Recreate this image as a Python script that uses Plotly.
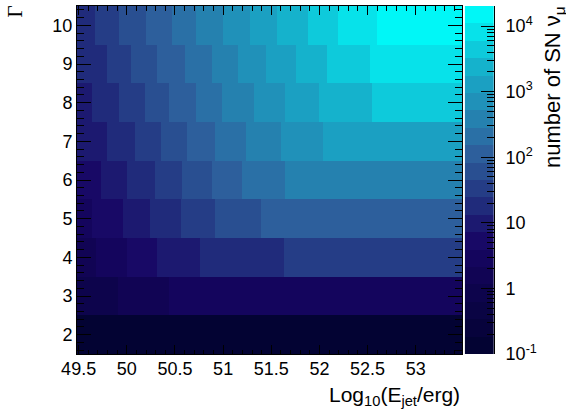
import numpy as np
import plotly.graph_objects as go

# ---------------- data ----------------
gamma = [2, 3, 4, 5, 6, 7, 8, 9, 10]

# interior x boundaries (log10 E_jet/erg) of the constant-colour blocks per Gamma row
edges_g2 = []
counts_g2 = [0.14]
edges_g3 = [49.91, 50.44]
counts_g3 = [0.85, 1.6, 2.9]
edges_g4 = [49.68, 50.00, 50.31, 50.76, 51.63]
counts_g4 = [1.6, 2.9, 5.3, 9.7, 18, 33]
edges_g5 = [49.64, 49.96, 50.24, 50.56, 50.92, 51.39]
counts_g5 = [2.9, 5.3, 9.7, 18, 33, 61, 110]
edges_g6 = [49.73, 50.00, 50.29, 50.57, 50.88, 51.20, 51.64]
counts_g6 = [5.3, 9.7, 18, 33, 61, 110, 205, 380]
edges_g7 = [49.79, 50.08, 50.36, 50.63, 50.92, 51.24, 51.60, 52.04]
counts_g7 = [9.7, 18, 33, 61, 110, 205, 380, 700, 1300]
edges_g8 = [49.64, 49.92, 50.19, 50.44, 50.72, 50.99, 51.32, 51.64, 52.00, 52.55]
counts_g8 = [9.7, 18, 33, 61, 110, 205, 380, 700, 1300, 2350, 4350]
edges_g9 = [49.79, 50.04, 50.31, 50.60, 50.88, 51.15, 51.44, 51.76, 52.08, 52.52]
counts_g9 = [18, 33, 61, 110, 205, 380, 700, 1300, 2350, 4350, 8000]
edges_g10 = [49.67, 49.92, 50.20, 50.47, 50.72, 51.00, 51.28, 51.56, 51.88, 52.19, 52.60]
counts_g10 = [18, 33, 61, 110, 205, 380, 700, 1300, 2350, 4350, 8000, 20200]

row_edges = [edges_g2, edges_g3, edges_g4, edges_g5, edges_g6, edges_g7, edges_g8, edges_g9, edges_g10]
row_counts = [counts_g2, counts_g3, counts_g4, counts_g5, counts_g6, counts_g7, counts_g8, counts_g9, counts_g10]

x_tickvals = [49.5, 50, 50.5, 51, 51.5, 52, 52.5, 53]
x_ticktext = ["49.5", "50", "50.5", "51", "51.5", "52", "52.5", "53"]
y_tickvals = [2, 3, 4, 5, 6, 7, 8, 9, 10]
z_tickvals = [-1, 0, 1, 2, 3, 4]
z_ticktext = ["10<sup>-1</sup>", "1", "10", "10<sup>2</sup>", "10<sup>3</sup>", "10<sup>4</sup>"]

X_MIN, X_MAX = 49.483, 53.483
Y_MIN, Y_MAX = 1.5, 10.5
Z_MIN_LOG, Z_MAX_LOG = -1.0, np.log10(20200)
N_LEVELS = 20

# ---------------- palette (ROOT "deep sea", 20 contour levels) ----------------
stops = [0.00, 0.34, 0.61, 0.84, 1.00]
red = [0.00, 0.09, 0.18, 0.09, 0.00]
green = [0.01, 0.02, 0.39, 0.68, 0.97]
blue = [0.17, 0.39, 0.62, 0.79, 0.97]
NCOL = 255


def band_color(k):
    idx = min(int((k + 0.99) * NCOL / N_LEVELS), NCOL - 1)
    t = idx / (NCOL - 1)
    r = np.interp(t, stops, red)
    g = np.interp(t, stops, green)
    b = np.interp(t, stops, blue)
    return "rgb(%d,%d,%d)" % (round(r * 255), round(g * 255), round(b * 255))


colorscale = []
for k in range(N_LEVELS):
    c = band_color(k)
    colorscale.append([k / N_LEVELS, c])
    colorscale.append([(k + 1) / N_LEVELS, c])

# ---------------- build one rectangular grid from the per-row blocks ----------------
all_edges = sorted(set([X_MIN, X_MAX] + [e for ed in row_edges for e in ed]))
x_centers = 0.5 * (np.array(all_edges[:-1]) + np.array(all_edges[1:]))
z_grid = []
for ed, cnt in zip(row_edges, row_counts):
    seg = np.searchsorted(np.array(ed), x_centers)
    z_grid.append(list(np.log10(np.array(cnt, dtype=float))[seg]))
y_edges = [g - 0.5 for g in gamma] + [gamma[-1] + 0.5]

FONT = "Liberation Sans, Arial, Helvetica, sans-serif"
FS = 18
FS_TITLE = 21

fig = go.Figure()
fig.add_trace(go.Heatmap(
    x=all_edges, y=y_edges, z=z_grid,
    coloraxis="coloraxis", zsmooth=False, hoverinfo="skip",
    xaxis="x", yaxis="y",
))

# colour bar drawn as its own small heatmap
lev_edges = np.linspace(Z_MIN_LOG, Z_MAX_LOG, N_LEVELS + 1)
lev_centers = 0.5 * (lev_edges[:-1] + lev_edges[1:])
fig.add_trace(go.Heatmap(
    x=[0, 1], y=list(lev_edges), z=[[v] for v in lev_centers],
    coloraxis="coloraxis", zsmooth=False, hoverinfo="skip",
    xaxis="x2", yaxis="y2",
))

minor_z = []
for d in range(-1, 5):
    for m in range(2, 10):
        v = d + np.log10(m)
        if v < Z_MAX_LOG:
            minor_z.append(v)

L, R, T, B = 77, 72, 6, 58
W, H = 566, 412
pw = W - L - R
ph = H - T - B


def px_x(p):
    return (p - L) / pw


def px_y(p):
    return (H - B - p) / ph


axis_common = dict(showgrid=False, zeroline=False, showline=True, linecolor="black",
                   linewidth=1, ticks="inside", tickcolor="black", mirror="allticks",
                   automargin=False,
                   tickfont=dict(family=FONT, size=FS, color="black"))

fig.update_layout(
    width=W, height=H,
    margin=dict(l=L, r=R, t=T, b=B, pad=0, autoexpand=False),
    paper_bgcolor="white", plot_bgcolor="white",
    showlegend=False,
    font=dict(family=FONT, size=FS, color="black"),
    coloraxis=dict(colorscale=colorscale, cmin=Z_MIN_LOG, cmax=Z_MAX_LOG, showscale=False),
    xaxis=dict(domain=[0, px_x(462.3)], range=[X_MIN, X_MAX], anchor="y",
               tickmode="array", tickvals=x_tickvals, ticktext=x_ticktext,
               ticklen=9, tickwidth=1, ticklabelstandoff=-2,
               minor=dict(dtick=0.1, tick0=49.5, ticklen=4.5, ticks="inside", tickcolor="black", showgrid=False),
               **axis_common),
    yaxis=dict(domain=[0, 1], range=[Y_MIN, Y_MAX], anchor="x",
               tickmode="array", tickvals=y_tickvals,
               ticklen=14, tickwidth=1,
               minor=dict(dtick=0.2, tick0=1.6, ticklen=7, ticks="inside", tickcolor="black", showgrid=False),
               **axis_common),
    xaxis2=dict(domain=[px_x(464.7), 1], range=[0, 1], anchor="y2", automargin=False,
                showticklabels=False, ticks="", showline=False, showgrid=False, zeroline=False),
    yaxis2=dict(domain=[0, 1], range=[Z_MIN_LOG, Z_MAX_LOG], anchor="x2", side="right",
                tickmode="array", tickvals=z_tickvals, ticktext=z_ticktext,
                ticks="inside", ticklen=13, tickwidth=1, tickcolor="black",
                minor=dict(tickmode="array", tickvals=minor_z, ticklen=7, ticks="inside",
                           tickcolor="black", showgrid=False),
                showline=True, linecolor="black", linewidth=1, automargin=False,
                showgrid=False, zeroline=False, ticklabelstandoff=7,
                tickfont=dict(family=FONT, size=FS, color="black")),
)

fig.add_annotation(text="Log<sub>10</sub>(E<sub>jet</sub>/erg)", xref="paper", yref="paper",
                   x=px_x(462), y=px_y(396), xanchor="right", yanchor="middle",
                   showarrow=False, font=dict(family=FONT, size=FS_TITLE, color="black"))
fig.add_annotation(text="Γ", xref="paper", yref="paper",
                   x=px_x(15), y=px_y(11.5), xanchor="center", yanchor="middle", textangle=-90,
                   showarrow=False, font=dict(family="Liberation Serif, DejaVu Serif, serif", size=FS_TITLE, color="black"))
fig.add_annotation(text="number of SN ν<sub>μ</sub>", xref="paper", yref="paper",
                   x=px_x(554), y=px_y(4), xanchor="center", yanchor="top", textangle=-90,
                   showarrow=False, font=dict(family=FONT, size=22, color="black"))

fig.write_html("out.html", config=dict(displayModeBar=False),
               post_script="document.body.style.margin='0';document.body.style.overflow='hidden';")
